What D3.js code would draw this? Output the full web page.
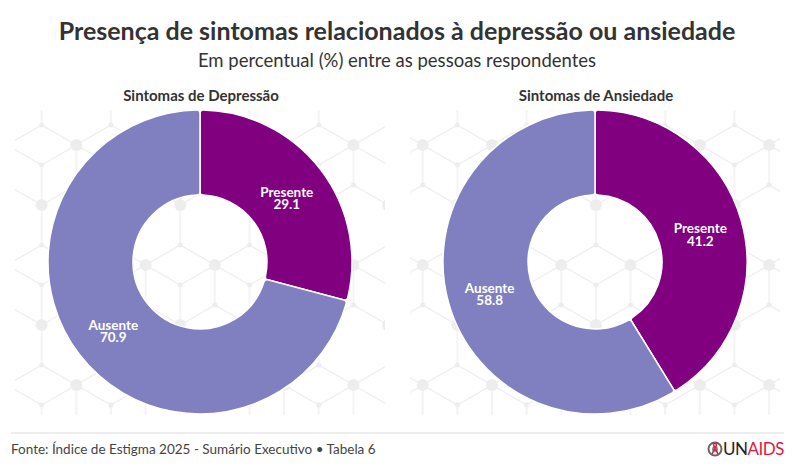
<!DOCTYPE html>
<html>
<head>
<meta charset="utf-8">
<script src="https://cdn.jsdelivr.net/npm/d3@7"></script>
<style>
  body { margin: 0; background: #fff; }
  text { font-family: Lato, "Noto Sans", sans-serif; }
</style>
</head>
<body>
<div id="chart"></div>
<script>
// data
const categories = ["Presente", "Ausente"];
const depressao = [29.1, 70.9];
const ansiedade = [41.2, 58.8];
const panelTitles = ["Sintomas de Depressão", "Sintomas de Ansiedade"];
const colors = ["#800080", "#8080c0"];

const width = 794, height = 469;

const svg = d3.select("#chart").append("svg")
    .attr("width", width)
    .attr("height", height);

// background hex pattern
const s = 40, W = Math.sqrt(3) * s;
const defs = svg.append("defs");
const pat = defs.append("pattern")
    .attr("id", "hex")
    .attr("patternUnits", "userSpaceOnUse")
    .attr("width", W)
    .attr("height", 3 * s)
    .attr("x", 7)
    .attr("y", 105);
const lines = [
    [W / 2, 0, W / 2, s / 2], [W / 2, 2.5 * s, W / 2, 3 * s],
    [0, s, 0, 2 * s], [W, s, W, 2 * s],
    [W / 2, s / 2, 0, s], [W / 2, s / 2, W, s],
    [0, 2 * s, W / 2, 2.5 * s], [W, 2 * s, W / 2, 2.5 * s],
    [W / 2, 1.5 * s, W / 2, 2.5 * s], [W / 2, 1.5 * s, 0, s], [W / 2, 1.5 * s, W, s]
];
pat.selectAll("line").data(lines).join("line")
    .attr("x1", d => d[0]).attr("y1", d => d[1])
    .attr("x2", d => d[2]).attr("y2", d => d[3])
    .attr("stroke", "#ededed").attr("stroke-width", 1.2);
const dots = [[W / 2, s / 2, 2.5], [0, s, 6], [W, s, 6], [W / 2, 1.5 * s, 2.5], [0, 2 * s, 2.5], [W, 2 * s, 2.5], [W / 2, 2.5 * s, 6]];
pat.selectAll("circle").data(dots).join("circle")
    .attr("cx", d => d[0]).attr("cy", d => d[1]).attr("r", d => d[2])
    .attr("fill", "#ededed");

// titles
svg.append("text")
    .attr("x", width / 2).attr("y", 40)
    .attr("text-anchor", "middle")
    .attr("font-size", 25).attr("font-weight", 700)
    .attr("fill", "#333")
    .text("Presença de sintomas relacionados à depressão ou ansiedade");

svg.append("text")
    .attr("x", width / 2).attr("y", 67)
    .attr("text-anchor", "middle")
    .attr("font-size", 18.5)
    .attr("fill", "#333")
    .text("Em percentual (%) entre as pessoas respondentes");

const outerR = 152, innerR = 67;
const pie = d3.pie().sort(null);
const arc = d3.arc().innerRadius(innerR).outerRadius(outerR).cornerRadius(3);
const labelArc = d3.arc().innerRadius((innerR + outerR) / 2).outerRadius((innerR + outerR) / 2);

const panels = [
    { title: panelTitles[0], values: depressao, cx: 200 },
    { title: panelTitles[1], values: ansiedade, cx: 595 }
];
const cy = 262;

panels.forEach(p => {
    svg.append("rect")
        .attr("x", p.cx - 185).attr("y", 110)
        .attr("width", 370).attr("height", 305)
        .attr("fill", "url(#hex)");

    svg.append("text")
        .attr("x", p.cx + 1).attr("y", 101)
        .attr("text-anchor", "middle")
        .attr("font-size", 15).attr("font-weight", 700)
        .attr("fill", "#333")
        .text(p.title);

    const g = svg.append("g").attr("transform", `translate(${p.cx},${cy})`);
    const arcs = pie(p.values);

    g.selectAll("path").data(arcs).join("path")
        .attr("d", arc)
        .attr("fill", (d, i) => colors[i])
        .attr("stroke", "#fff")
        .attr("stroke-width", 1.5);

    const lab = g.selectAll("text.lab").data(arcs).join("text")
        .attr("class", "lab")
        .attr("transform", d => `translate(${labelArc.centroid(d)})`)
        .attr("text-anchor", "middle")
        .attr("font-size", 13.5).attr("font-weight", 700)
        .attr("fill", "#fff");
    lab.append("tspan").attr("x", 0).attr("dy", "0.1em").text((d, i) => categories[i]);
    lab.append("tspan").attr("x", 0).attr("dy", "0.9em").text(d => d.value.toFixed(1));
});

// footer
svg.append("line")
    .attr("x1", 11).attr("x2", 784)
    .attr("y1", 433).attr("y2", 433)
    .attr("stroke", "#ddd").attr("stroke-width", 1);

svg.append("text")
    .attr("x", 11).attr("y", 454)
    .attr("font-size", 13.5)
    .attr("fill", "#444")
    .text("Fonte: Índice de Estigma 2025 - Sumário Executivo • Tabela 6");

// UNAIDS logo
const logo = svg.append("g").attr("transform", "translate(715,449)");
logo.append("circle").attr("r", 6.5).attr("fill", "none").attr("stroke", "#666").attr("stroke-width", 2);
logo.append("circle").attr("r", 3).attr("fill", "#888");
logo.append("path")
    .attr("d", "M-3,5 L1,-3 Q2,-6 0,-6 Q-2,-6 -1,-3 L3,5")
    .attr("fill", "none").attr("stroke", "#e4173f").attr("stroke-width", 1.6);
const lt = svg.append("text")
    .attr("x", 723).attr("y", 455)
    .attr("font-family", "Roboto, sans-serif")
    .attr("font-size", 17)
    .attr("letter-spacing", -0.5);
lt.append("tspan").attr("fill", "#222").text("UN");
lt.append("tspan").attr("fill", "#e4173f").text("AIDS");
</script>
</body>
</html>
